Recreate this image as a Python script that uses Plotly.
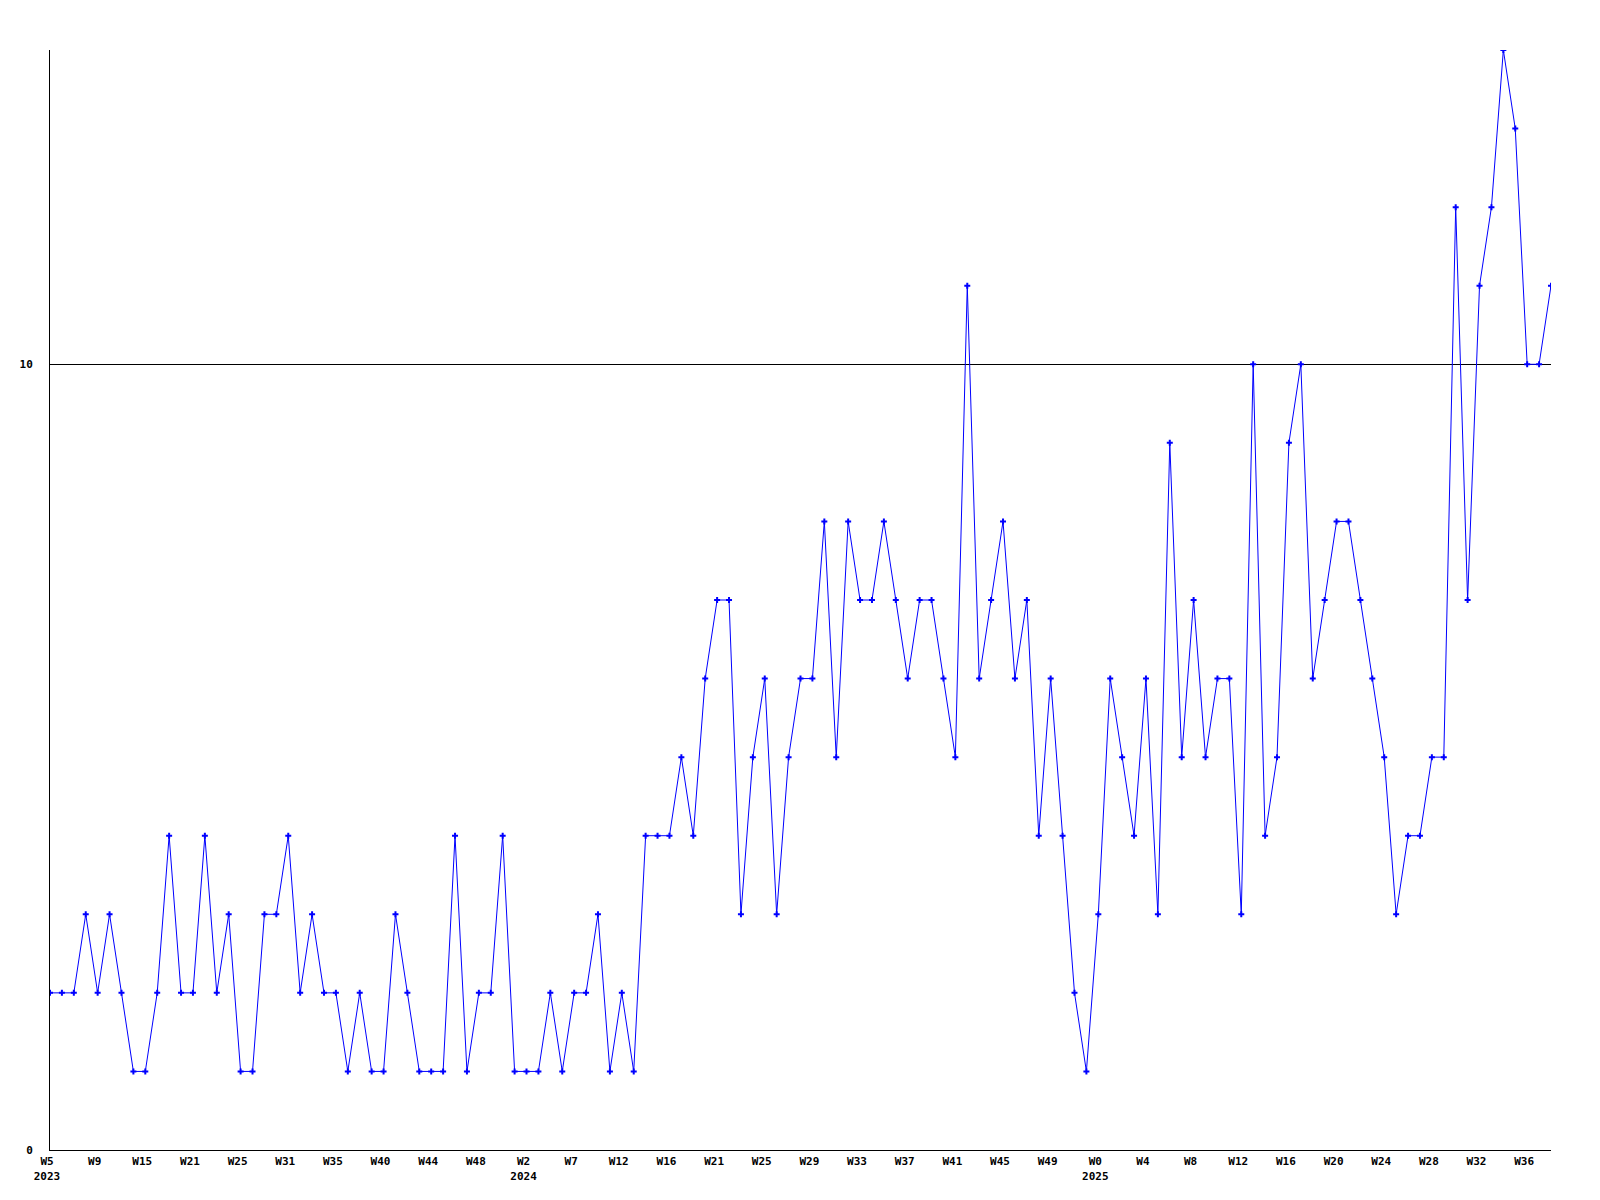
import plotly.graph_objects as go

values = [2, 2, 2, 3, 2, 3, 2, 1, 1, 2, 4, 2, 2, 4, 2, 3, 1, 1, 3, 3,
          4, 2, 3, 2, 2, 1, 2, 1, 1, 3, 2, 1, 1, 1, 4, 1, 2, 2, 4, 1,
          1, 1, 2, 1, 2, 2, 3, 1, 2, 1, 4, 4, 4, 5, 4, 6, 7, 7, 3, 5,
          6, 3, 5, 6, 6, 8, 5, 8, 7, 7, 8, 7, 6, 7, 7, 6, 5, 11, 6, 7,
          8, 6, 7, 4, 6, 4, 2, 1, 3, 6, 5, 4, 6, 3, 9, 5, 7, 5, 6, 6,
          3, 10, 4, 5, 9, 10, 6, 7, 8, 8, 7, 6, 5, 3, 4, 4, 5, 5, 12, 7,
          11, 12, 14, 13, 10, 10, 11]

tick_labels = ["W5<br>2023", "W9", "W15", "W21", "W25", "W31", "W35", "W40",
               "W44", "W48", "W2<br>2024", "W7", "W12", "W16", "W21", "W25",
               "W29", "W33", "W37", "W41", "W45", "W49", "W0<br>2025", "W4",
               "W8", "W12", "W16", "W20", "W24", "W28", "W32", "W36"]

y_ticks = [0, 10]

x = list(range(len(values)))
tick_step = 4
tickvals = list(range(0, len(values), tick_step))[:len(tick_labels)]

font = dict(family="DejaVu Sans Mono", size=11, color="black", weight="bold")

fig = go.Figure()
fig.add_trace(go.Scatter(
    x=x, y=values, mode="lines+markers",
    line=dict(color="#0000ff", width=1),
    marker=dict(symbol="cross", size=5, color="#0000ff", line=dict(width=0)),
    showlegend=False,
))

fig.update_layout(
    width=1600, height=1200,
    paper_bgcolor="white", plot_bgcolor="white",
    margin=dict(l=42, r=57, t=42, b=58),
    font=font,
    xaxis=dict(
        range=[0, len(values) - 1],
        tickmode="array", tickvals=tickvals, ticktext=tick_labels,
        showgrid=False, zeroline=False,
        showline=True, linecolor="black", linewidth=1,
        ticks="", tickfont=font, ticklabelstandoff=1, ticklabelshift=-3,
    ),
    yaxis=dict(
        range=[0, 14],
        tickmode="array", tickvals=y_ticks, ticktext=[str(v) for v in y_ticks],
        showgrid=True, gridcolor="black", gridwidth=1,
        zeroline=False,
        showline=True, linecolor="black", linewidth=1,
        ticks="", tickfont=font, ticklabelstandoff=14,
    ),
)

fig.write_html("out.html")
